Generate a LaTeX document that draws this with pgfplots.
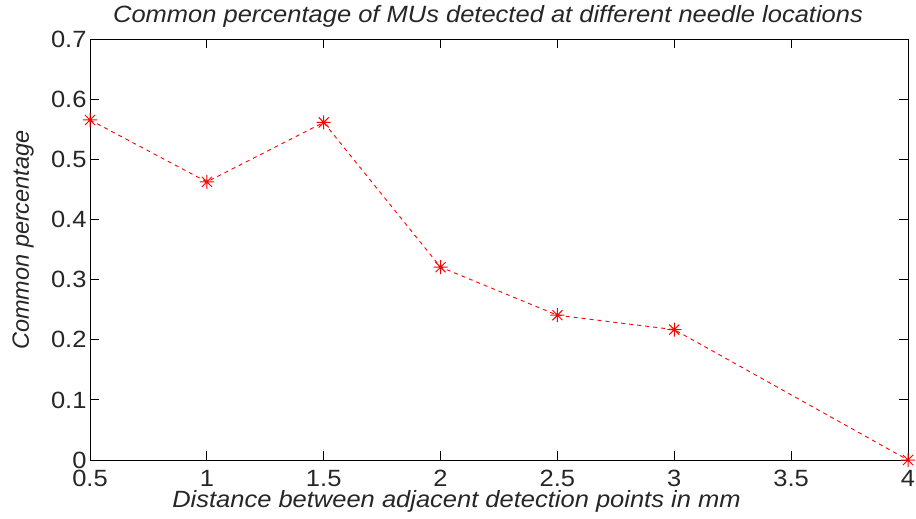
\documentclass[border=0pt]{standalone}
\usepackage{fontspec}
\setmainfont{Liberation Sans}
\newfontfamily\widesans{Liberation Sans}[FakeStretch=1.085]
\usepackage{pgfplots}
\pgfplotsset{compat=1.18}

% eight-spoked star: a plus sign overlaid with a cross
\pgfdeclareplotmark{star8}{%
  \pgfpathmoveto{\pgfqpoint{-\pgfplotmarksize}{0pt}}%
  \pgfpathlineto{\pgfqpoint{\pgfplotmarksize}{0pt}}%
  \pgfpathmoveto{\pgfqpoint{0pt}{-\pgfplotmarksize}}%
  \pgfpathlineto{\pgfqpoint{0pt}{\pgfplotmarksize}}%
  \pgfpathmoveto{\pgfqpoint{-0.72\pgfplotmarksize}{-0.72\pgfplotmarksize}}%
  \pgfpathlineto{\pgfqpoint{0.72\pgfplotmarksize}{0.72\pgfplotmarksize}}%
  \pgfpathmoveto{\pgfqpoint{-0.72\pgfplotmarksize}{0.72\pgfplotmarksize}}%
  \pgfpathlineto{\pgfqpoint{0.72\pgfplotmarksize}{-0.72\pgfplotmarksize}}%
  \pgfusepathqstroke}

\begin{document}
\begin{tikzpicture}
\path[use as bounding box] (0,0) rectangle (916bp,519bp);
\begin{axis}[
  at={(90bp,59bp)}, anchor=south west,
  scale only axis,
  width=818bp, height=420.5bp,
  xmin=0.5, xmax=4, ymin=0, ymax=0.7,
  xtick={0.5,1,...,4},
  ytick={0,0.1,...,0.7},
  yticklabel style={/pgf/number format/fixed},
  xticklabel style={/pgf/number format/fixed, yshift=-7bp},
  /pgf/number format/assume math mode=true,
  tick align=inside,
  major tick length=9bp,
  tick style={black, line width=1bp},
  axis line style={black, line width=1bp},
  ticklabel style={font=\widesans\fontsize{23.5bp}{26bp}\selectfont},
  every tick label/.append style={text=black!85},
  title={\itshape Common percentage of MUs detected at different needle locations},
  title style={font=\widesans\fontsize{23.5bp}{26bp}\selectfont, text=black!85,
    at={(axis description cs:0.4866,1.0273)}, anchor=base},
  xlabel={\itshape Distance between adjacent detection points in mm},
  xlabel style={font=\widesans\fontsize{23.5bp}{26bp}\selectfont, text=black!85,
    at={(axis description cs:0.448,-0.114)}, anchor=base},
  ylabel={\itshape Common percentage},
  ylabel style={font=\fontsize{23.5bp}{26bp}\selectfont, text=black!85,
    at={(axis description cs:-0.0819,0.523)}, anchor=center, rotate=0},
]
\addplot[red, line width=0.9bp, dash pattern=on 4bp off 4bp,
  mark=star8, mark size=7bp,
  mark options={solid, line width=1bp}]
  coordinates {
    (0.5,0.566)
    (1.0,0.463)
    (1.5,0.562)
    (2.0,0.321)
    (2.5,0.241)
    (3.0,0.217)
    (4.0,0.000)
  };
\end{axis}
\end{tikzpicture}
\end{document}
